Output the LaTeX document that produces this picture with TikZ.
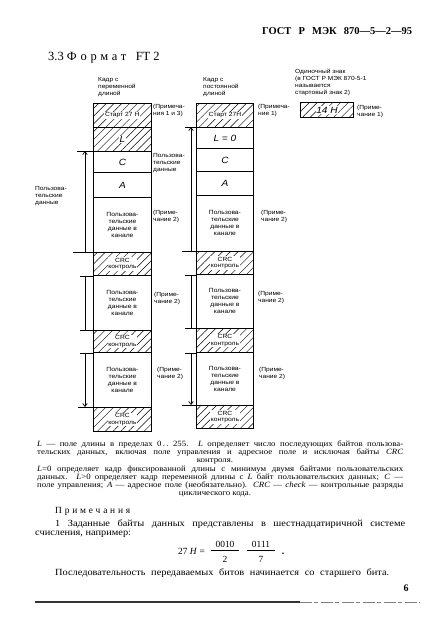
\documentclass[tikz,border=0pt]{standalone}
\usepackage{fontspec}
\setmainfont{Liberation Serif}
\newfontfamily\lsans{Liberation Sans}[FakeStretch=1.12]
\newfontfamily\bodyfont{Liberation Serif}[FakeStretch=1.1]
\newfontfamily\spacedfont{Liberation Serif}[LetterSpace=30]
\usetikzlibrary{patterns.meta,arrows.meta}
\begin{document}
\begin{tikzpicture}[x=1pt,y=-1pt,
  field/.style={draw, line width=0.9pt, inner sep=0pt, anchor=north west,
    font=\lsans\fontsize{6}{7}\selectfont, align=center},
  hatch/.style={pattern={Lines[angle=45,distance=5.5pt,line width=0.45pt]}},
  lcol/.style={minimum width=58pt},
  rcol/.style={minimum width=57pt},
  hlab/.style={fill=white, inner sep=0.6pt, font=\lsans\fontsize{6}{6.8}\selectfont, align=center},
  big/.style={font=\lsans\itshape\fontsize{9}{10}\selectfont},
  note/.style={anchor=north west, inner sep=0pt, align=left,
    font=\lsans\fontsize{5.9}{7}\selectfont},
  arr/.style={line width=0.7pt, -{Straight Barb[length=3pt,width=4.5pt]}},
  tick/.style={line width=0.7pt},
  body/.style={anchor=base west, inner sep=0pt, font=\bodyfont\fontsize{8}{8}\selectfont},
  bodyc/.style={anchor=base, inner sep=0pt, font=\bodyfont\fontsize{8}{8}\selectfont},
  notes/.style={anchor=base west, inner sep=0pt, font=\bodyfont\fontsize{9.4}{10}\selectfont}
]
\useasboundingbox (0,0) rectangle (424,622);

% header and title
\node[anchor=base west, inner sep=0pt, font=\bfseries\fontsize{10.5}{12}\selectfont] (hdr) at (262,34)
  {\makebox[150pt][s]{ГОСТ\ \ Р\ \ МЭК\ \ 870—5—2—95}};
\node[anchor=base west, inner sep=0pt, font=\fontsize{12.5}{14}\selectfont] (ttl) at (48,60)
  {3.3 {\spacedfont Формат}\ \ \ FT 2};

% top labels
\node[note] (t1) at (98,77) {Кадр с\\переменной\\длиной};
\node[note] (t2) at (203,77) {Кадр с\\постоянной\\длиной};
\node[note] (t3) at (295,69) {Одиночный знак\\ (в ГОСТ Р МЭК 870-5-1\\называется\\стартовый знак 2)};

% left column
\node[field,lcol,hatch,minimum height=24pt] (ls) at (93,103) {};
\node[hlab] (lsl) at (ls) {Старт 27 H};
\node[field,lcol,hatch,minimum height=24pt] (ll) at (93,127) {};
\node[hlab,big] (lll) at (ll) {L};
\node[field,lcol,big,minimum height=21pt] (lc) at (93,151) {C};
\node[field,lcol,big,minimum height=25pt] (la) at (93,172) {A};
\node[field,lcol,minimum height=55pt] (lu1) at (93,197) {Пользова-\\тельские\\данные в\\канале};
\node[field,lcol,hatch,minimum height=23pt] (lk1) at (93,252) {};
\node[hlab] (lk1l) at (lk1) {CRC\\контроль};
\node[field,lcol,minimum height=55pt] (lu2) at (93,275) {Пользова-\\тельские\\данные в\\канале};
\node[field,lcol,hatch,minimum height=22pt] (lk2) at (93,330) {};
\node[hlab] (lk2l) at (lk2) {CRC\\контроль};
\node[field,lcol,minimum height=55pt] (lu3) at (93,352) {Пользова-\\тельские\\данные в\\канале};
\node[field,lcol,hatch,minimum height=24pt] (lk3) at (93,407) {};
\node[hlab] (lk3l) at (lk3) {CRC\\контроль};

% right column
\node[field,rcol,hatch,minimum height=24pt] (rs) at (196,103) {};
\node[hlab] (rsl) at (rs) {Старт 27H};
\node[field,rcol,big,minimum height=21pt] (rl) at (196,127) {L = 0};
\node[field,rcol,big,minimum height=23pt] (rc) at (196,148) {C};
\node[field,rcol,big,minimum height=24pt] (ra) at (196,171) {A};
\node[field,rcol,minimum height=56pt] (ru1) at (196,195) {Пользова-\\тельские\\данные в\\канале};
\node[field,rcol,hatch,minimum height=23pt] (rk1) at (196,251) {};
\node[hlab] (rk1l) at (rk1) {CRC\\контроль};
\node[field,rcol,minimum height=54pt] (ru2) at (196,274) {Пользова-\\тельские\\данные в\\канале};
\node[field,rcol,hatch,minimum height=24pt] (rk2) at (196,328) {};
\node[hlab] (rk2l) at (rk2) {CRC\\контроль};
\node[field,rcol,minimum height=53pt] (ru3) at (196,352) {Пользова-\\тельские\\данные в\\канале};
\node[field,rcol,hatch,minimum height=23pt] (rk3) at (196,405) {};
\node[hlab] (rk3l) at (rk3) {CRC\\контроль};

% single character
\node[field,hatch,minimum width=53pt,minimum height=15pt] (sc) at (300,102) {};
\node[hlab,big] (scl) at (sc) {14 H};

% side notes
\node[note] (n1) at (153,104) {(Примеча-\\ния 1 и 3)};
\node[note] (n2) at (258,104) {(Примеча-\\ние 1)};
\node[note] (n3) at (357,105) {(Приме-\\чание 1)};
\node[note] (n4) at (153,153) {Пользова-\\тельские\\данные};
\node[note] (n5) at (35,186) {Пользова-\\тельские\\данные};
\node[note] (l2a) at (153,210) {(Приме-\\чание 2)};
\node[note] (l2b) at (154,292) {(Приме-\\чание 2)};
\node[note] (l2c) at (157,367) {(Приме-\\чание 2)};
\node[note] (r2a) at (261,210) {(Приме-\\чание 2)};
\node[note] (r2b) at (258,291) {(Приме-\\чание 2)};
\node[note] (r2c) at (259,367) {(Приме-\\чание 2)};

% ticks and arrows, left
\coordinate (axl) at (85,0);
\draw[tick] (lc.north west) -- ++(-16,0);
\draw[tick] (lk1.north west) -- ++(-20,0);
\draw[tick] (lk1.south west) -- ++(-13,0);
\draw[tick] (lk2.north west) -- ++(-13,0);
\draw[tick] (lk2.south west) -- ++(-13,0);
\draw[tick] (lk3.north west) -- ++(-15,0);
\draw[arr] (axl |- lk1.north) -- (axl |- lc.north);
\draw[tick] (axl |- lk1.south) -- (axl |- lk2.north);
\draw[arr] (axl |- lk2.south) -- (axl |- lk3.north);

% ticks and arrows, right
\coordinate (axr) at (191,0);
\draw[tick] (rl.north west) -- ++(-11,0);
\draw[tick] (rk1.north west) -- ++(-14,0);
\draw[tick] (rk1.south west) -- ++(-11,0);
\draw[tick] (rk2.north west) -- ++(-11,0);
\draw[tick] (rk2.south west) -- ++(-11,0);
\draw[tick] (rk3.north west) -- ++(-14,0);
\draw[arr] (axr |- rk1.north) -- (axr |- rl.north);
\draw[tick] (axr |- rk1.south) -- (axr |- rk2.north);
\draw[arr] (axr |- rk2.south) -- (axr |- rk3.north);

% legend text
\node[body] (b1) at (37,446) {\makebox[366pt][s]{\textit{L} — поле длины в пределах 0\,.\,.\ 255. \textit{L} определяет число последующих байтов пользова-}};
\node[body] (b2) at (37,454) {\makebox[366pt][s]{тельских данных, включая поле управления и адресное поле и исключая байты \textit{CRC}}};
\node[bodyc] (b3) at (215,462) {контроля.};
\node[body] (b4) at (37,471) {\makebox[366pt][s]{\textit{L}=0 определяет кадр фиксированной длины с минимум двумя байтами пользовательских}};
\node[body] (b5) at (37,479) {\makebox[366pt][s]{данных. \textit{L}>0 определяет кадр переменной длины с \textit{L} байт пользовательских данных; \textit{C} —}};
\node[body] (b6) at (37,487) {\makebox[366pt][s]{поле управления; \textit{A} — адресное поле (необязательно). \textit{CRC} — \textit{check} — контрольные разряды}};
\node[bodyc] (b7) at (215,495) {циклического кода.};

% notes
\node[anchor=base west, inner sep=0pt, font=\fontsize{9.4}{10}\selectfont] (pr) at (55,513) {\spacedfont Примечания};
\node[notes] (p1) at (55,526) {\makebox[350pt][s]{1 Заданные байты данных представлены в шестнадцатиричной системе}};
\node[notes] (p2) at (35,535) {счисления, например:};
\node[anchor=base east, inner sep=0pt, font=\fontsize{9.4}{10}\selectfont] (eq) at (205,554) {27 \textit{H} =};
\node[anchor=base, inner sep=0pt, font=\fontsize{9.4}{10}\selectfont] (f1n) at (225,547) {0010};
\node[anchor=base, inner sep=0pt, font=\fontsize{9.4}{10}\selectfont] (f1d) at (225,562) {2};
\node[anchor=base, inner sep=0pt, font=\fontsize{9.4}{10}\selectfont] (f2n) at (261,547) {0111};
\node[anchor=base, inner sep=0pt, font=\fontsize{9.4}{10}\selectfont] (f2d) at (261,562) {7};
\draw[line width=0.55pt] (f1n.base -| 211,0) ++(0,3) -- ++(28,0);
\draw[line width=0.55pt] (f2n.base -| 247,0) ++(0,3) -- ++(28,0);
\node[anchor=base, inner sep=0pt, font=\bfseries\fontsize{10}{10}\selectfont] (dot) at (283,554) {.};
\node[notes] (p3) at (55,575) {\makebox[334pt][s]{Последовательность передаваемых битов начинается со старшего бита.}};
\node[anchor=base, inner sep=0pt, font=\bfseries\fontsize{10}{10}\selectfont] (pg) at (406,591) {6};

% bottom rule of the scan
\draw[line width=1.1pt, black!80] (35,602) -- (300,602);
\draw[line width=0.6pt, black!50, dash pattern=on 12pt off 2pt on 4pt off 3pt] (300,602) -- (420,602);
\end{tikzpicture}
\end{document}
